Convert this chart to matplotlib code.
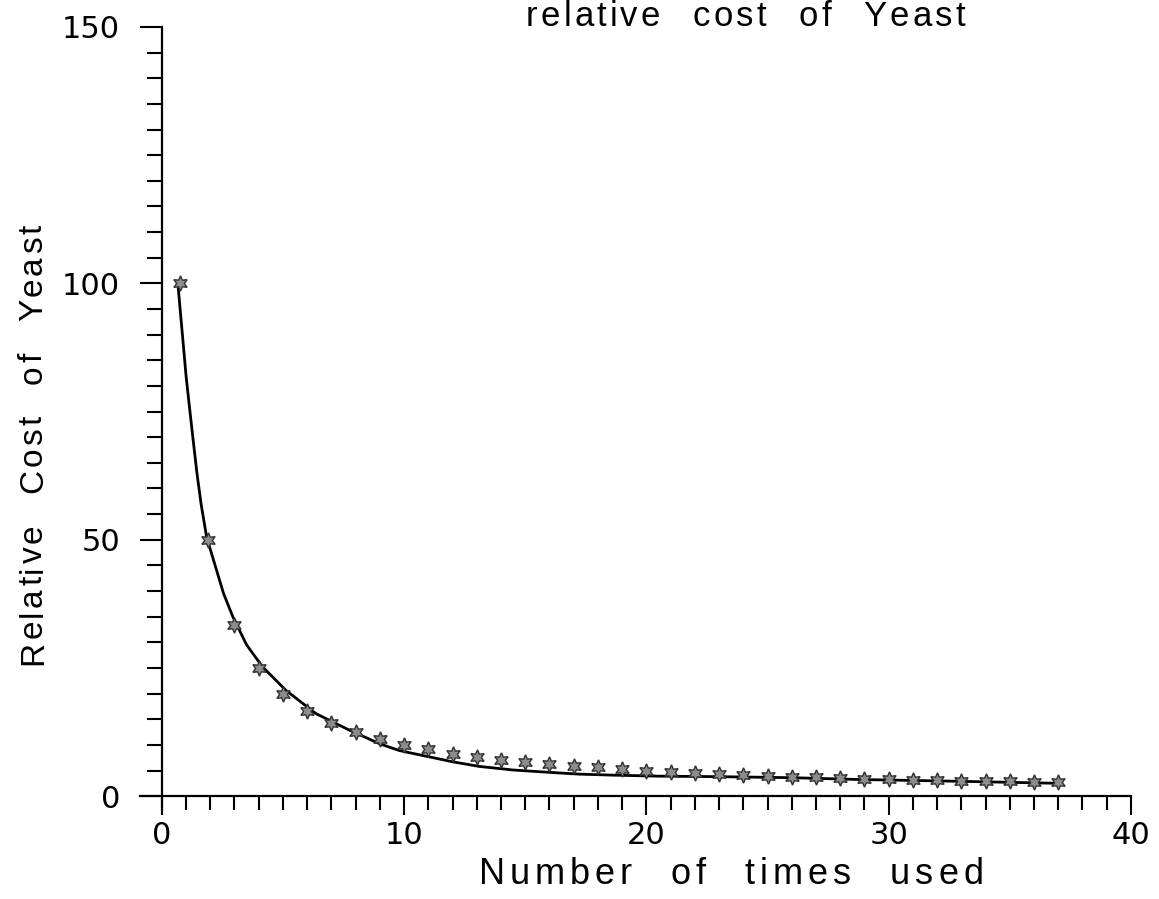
import numpy as np
import matplotlib
matplotlib.use("Agg")
from matplotlib import pyplot as plt
from matplotlib.ticker import MultipleLocator
from matplotlib.font_manager import findfont, FontProperties
from matplotlib.ft2font import FT2Font

# cost per use of one batch of yeast (stars)
uses = [0.75, 1.9] + list(range(3, 38))
cost = [100, 50, 33.3, 25, 20, 16.7, 14.3, 12.5, 11.1, 10, 9.1, 8.3, 7.7, 7.1,
        6.7, 6.3, 5.9, 5.6, 5.3, 5.0, 4.8, 4.5, 4.3, 4.2, 4.0, 3.8, 3.7, 3.6,
        3.4, 3.3, 3.2, 3.1, 3.0, 2.9, 2.9, 2.8, 2.7]

# smooth fitted curve
fit_x = [0.68, 0.85, 1.0, 1.15, 1.28, 1.45, 1.62, 1.85, 2.2, 2.55, 2.93, 3.5,
         4.16, 5.13, 6.36, 7.73, 9.0, 9.8, 11.0, 12.0, 13.1, 14.5, 15.8, 17.2,
         18.6, 20.5, 23.0, 26.0, 28.75, 32.9, 37.0]
fit_y = [99, 90, 82, 75.5, 70, 63, 57, 50.5, 45, 39.5, 35, 29.5,
         25.2, 20.6, 16.1, 12.9, 10.2, 8.9, 7.7, 6.7, 5.8, 5.1, 4.7, 4.3,
         4.1, 3.9, 3.8, 3.6, 3.25, 2.9, 2.5]

title = "relative cost of Yeast"
xlabel = "Number of times used"
ylabel = "Relative Cost of Yeast"

W, H = 1159, 899
FONT = "Liberation Sans"

fig = plt.figure(figsize=(W / 100, H / 100), dpi=100)
ax = fig.add_axes([0.1208, 0.099, 0.855, 0.871])


def advances(s, size):
    f = FT2Font(findfont(FontProperties(family=FONT)), hinting_factor=1)
    f.set_size(size, 100)
    return [f.load_char(ord(c)).linearHoriAdvance / 65536 for c in s]


def lettered(x, y, s, size, track, word, align="center", vertical=False):
    # pen-plotter lettering: every letter placed on its own with extra room
    adv = advances(s, size)
    pos, p = [], 0.0
    for c, a in zip(s, adv):
        pos.append(p)
        p += a + (word if c == " " else track)
    total = p - track
    start = {"center": -total / 2, "right": -total, "left": 0}[align]
    for c, q in zip(s, pos):
        if c == " ":
            continue
        if vertical:
            fig.text(x / W, 1 - (y - start - q) / H, c, fontsize=size,
                     family=FONT, rotation=90, rotation_mode="anchor",
                     ha="left", va="baseline")
        else:
            fig.text((x + start + q) / W, 1 - y / H, c, fontsize=size,
                     family=FONT, ha="left", va="baseline")


ax.plot(fit_x, fit_y, color="black", lw=2.0, zorder=2)
ax.plot(uses, cost, linestyle="none", marker=(6, 1, 0), markersize=11,
        markerfacecolor="#8c8c8c", markeredgecolor="#303030",
        markeredgewidth=1.0, zorder=3)

ax.set_xlim(-0.9, 40)
ax.set_ylim(-2.7, 150)

for s in ["top", "right"]:
    ax.spines[s].set_visible(False)
ax.spines["bottom"].set_position(("data", 0))
ax.spines["left"].set_position(("data", 0))
ax.spines["bottom"].set_bounds(-0.9, 40)
ax.spines["left"].set_bounds(-2.7, 150)
for s in ["bottom", "left"]:
    ax.spines[s].set_linewidth(1.6)

ax.xaxis.set_major_locator(MultipleLocator(10))
ax.xaxis.set_minor_locator(MultipleLocator(1))
ax.yaxis.set_major_locator(MultipleLocator(50))
ax.yaxis.set_minor_locator(MultipleLocator(5))
ax.tick_params(axis="x", which="major", direction="out", length=14, width=1.5,
               labelsize=22, pad=4)
ax.tick_params(axis="y", which="major", direction="out", length=16, width=1.5,
               labelsize=22, pad=14)
ax.tick_params(axis="x", which="minor", direction="out", length=10, width=1.5)
ax.tick_params(axis="y", which="minor", direction="out", length=11, width=1.5)

lettered(731, 884, xlabel, 26, 5, 24)
lettered(42, 445, ylabel, 24, 3, 20, vertical=True)
lettered(965, 26, title, 25, 3, 20, align="right")

fig.savefig("out.png", dpi=100)
